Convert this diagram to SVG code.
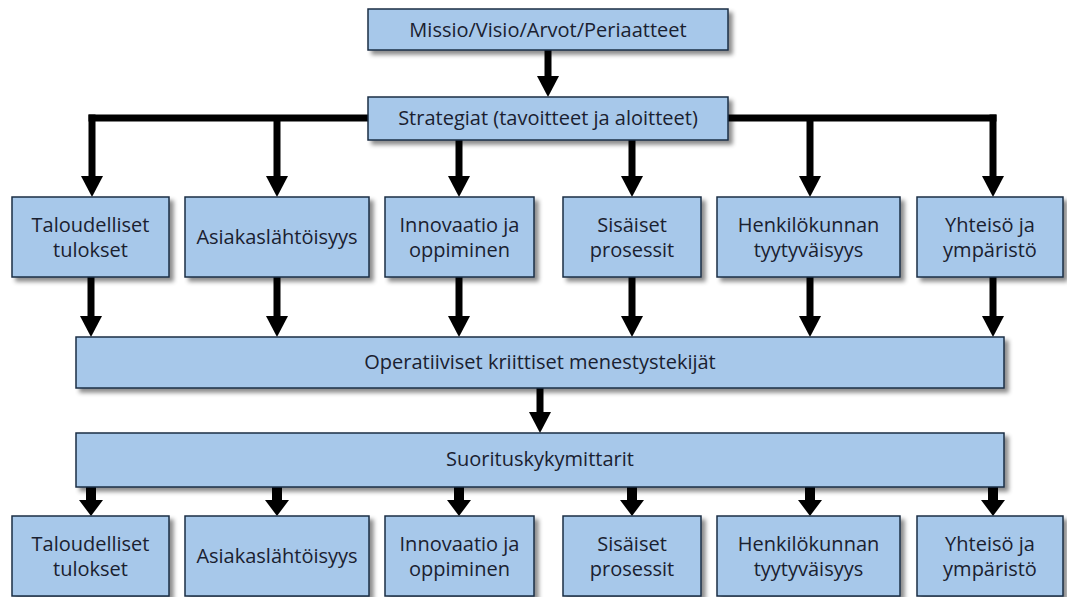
<svg xmlns="http://www.w3.org/2000/svg" width="1067" height="597" viewBox="0 0 1067 597">
<style>
.box{fill:#a7c8ea;stroke:#1b2f45;stroke-width:1.5;filter:url(#sh)}
.t{font-family:"Open Sans","Liberation Sans",sans-serif;font-size:20px;fill:#1a2130;text-anchor:middle}
.ln{stroke:#000;stroke-width:7;fill:none}
.a{stroke:#000;stroke-width:7;fill:none;marker-end:url(#ah)}
.b{stroke:#000;stroke-width:10;fill:none;marker-end:url(#ah2)}
</style>
<defs>
<filter id="sh" x="-5%" y="-20%" width="115%" height="150%">
<feDropShadow dx="4" dy="4" stdDeviation="2" flood-color="#000" flood-opacity="0.45"/>
</filter>
<marker id="ah" markerUnits="userSpaceOnUse" markerWidth="21" markerHeight="22" viewBox="0 0 21 22" refX="0" refY="11" orient="auto">
<path d="M0,0 L21,11 L0,22 z" fill="#000"/>
</marker>
<marker id="ah2" markerUnits="userSpaceOnUse" markerWidth="16" markerHeight="24" viewBox="0 0 16 24" refX="0" refY="12" orient="auto">
<path d="M0,0 L16,12 L0,24 z" fill="#000"/>
</marker>
</defs>
<rect width="1067" height="597" fill="#fff"/>
<g id="connectors">
<path class="a" d="M548,50 V76"/>
<path class="ln" d="M88.5,118 H996.5"/>
<path class="a" d="M92,114.5 V176"/>
<path class="a" d="M277,118 V176"/>
<path class="a" d="M459,118 V176"/>
<path class="a" d="M632,118 V176"/>
<path class="a" d="M810,118 V176"/>
<path class="a" d="M993,114.5 V176"/>
<path class="a" d="M91,277 V316"/>
<path class="a" d="M277,277 V316"/>
<path class="a" d="M459,277 V316"/>
<path class="a" d="M632,277 V316"/>
<path class="a" d="M810,277 V316"/>
<path class="a" d="M993,277 V316"/>
<path class="a" d="M540,388 V412"/>
<path class="b" d="M91,487 V500"/>
<path class="b" d="M277,487 V500"/>
<path class="b" d="M459,487 V500"/>
<path class="b" d="M632,487 V500"/>
<path class="b" d="M810,487 V500"/>
<path class="b" d="M993,487 V500"/>
</g>
<g id="missio"><rect class="box" x="368" y="9" width="360" height="41"/><text class="t" x="548" y="37">Missio/Visio/Arvot/Periaatteet</text></g>
<g id="strategiat"><rect class="box" x="368" y="97" width="360" height="43"/><text class="t" x="548" y="125">Strategiat (tavoitteet ja aloitteet)</text></g>
<g id="s1"><rect class="box" x="12" y="197" width="157" height="80"/><text class="t" x="90.5" y="232">Taloudelliset</text><text class="t" x="90.5" y="257">tulokset</text></g>
<g id="s2"><rect class="box" x="185" y="197" width="184" height="80"/><text class="t" x="277" y="244">Asiakaslähtöisyys</text></g>
<g id="s3"><rect class="box" x="385" y="197" width="149" height="80"/><text class="t" x="459.5" y="232">Innovaatio ja</text><text class="t" x="459.5" y="257">oppiminen</text></g>
<g id="s4"><rect class="box" x="563" y="197" width="138" height="80"/><text class="t" x="632" y="232">Sisäiset</text><text class="t" x="632" y="257">prosessit</text></g>
<g id="s5"><rect class="box" x="717" y="197" width="183" height="80"/><text class="t" x="808.5" y="232">Henkilökunnan</text><text class="t" x="808.5" y="257">tyytyväisyys</text></g>
<g id="s6"><rect class="box" x="917" y="197" width="146" height="80"/><text class="t" x="990" y="232">Yhteisö ja</text><text class="t" x="990" y="257">ympäristö</text></g>
<g id="operatiiviset"><rect class="box" x="76" y="337" width="928" height="51"/><text class="t" x="540" y="369">Operatiiviset kriittiset menestystekijät</text></g>
<g id="suoritus"><rect class="box" x="76" y="433" width="928" height="54"/><text class="t" x="540" y="466">Suorituskykymittarit</text></g>
<g id="m1"><rect class="box" x="12" y="516" width="157" height="80"/><text class="t" x="90.5" y="551">Taloudelliset</text><text class="t" x="90.5" y="576">tulokset</text></g>
<g id="m2"><rect class="box" x="185" y="516" width="184" height="80"/><text class="t" x="277" y="563">Asiakaslähtöisyys</text></g>
<g id="m3"><rect class="box" x="385" y="516" width="149" height="80"/><text class="t" x="459.5" y="551">Innovaatio ja</text><text class="t" x="459.5" y="576">oppiminen</text></g>
<g id="m4"><rect class="box" x="563" y="516" width="138" height="80"/><text class="t" x="632" y="551">Sisäiset</text><text class="t" x="632" y="576">prosessit</text></g>
<g id="m5"><rect class="box" x="717" y="516" width="183" height="80"/><text class="t" x="808.5" y="551">Henkilökunnan</text><text class="t" x="808.5" y="576">tyytyväisyys</text></g>
<g id="m6"><rect class="box" x="917" y="516" width="146" height="80"/><text class="t" x="990" y="551">Yhteisö ja</text><text class="t" x="990" y="576">ympäristö</text></g>
</svg>
